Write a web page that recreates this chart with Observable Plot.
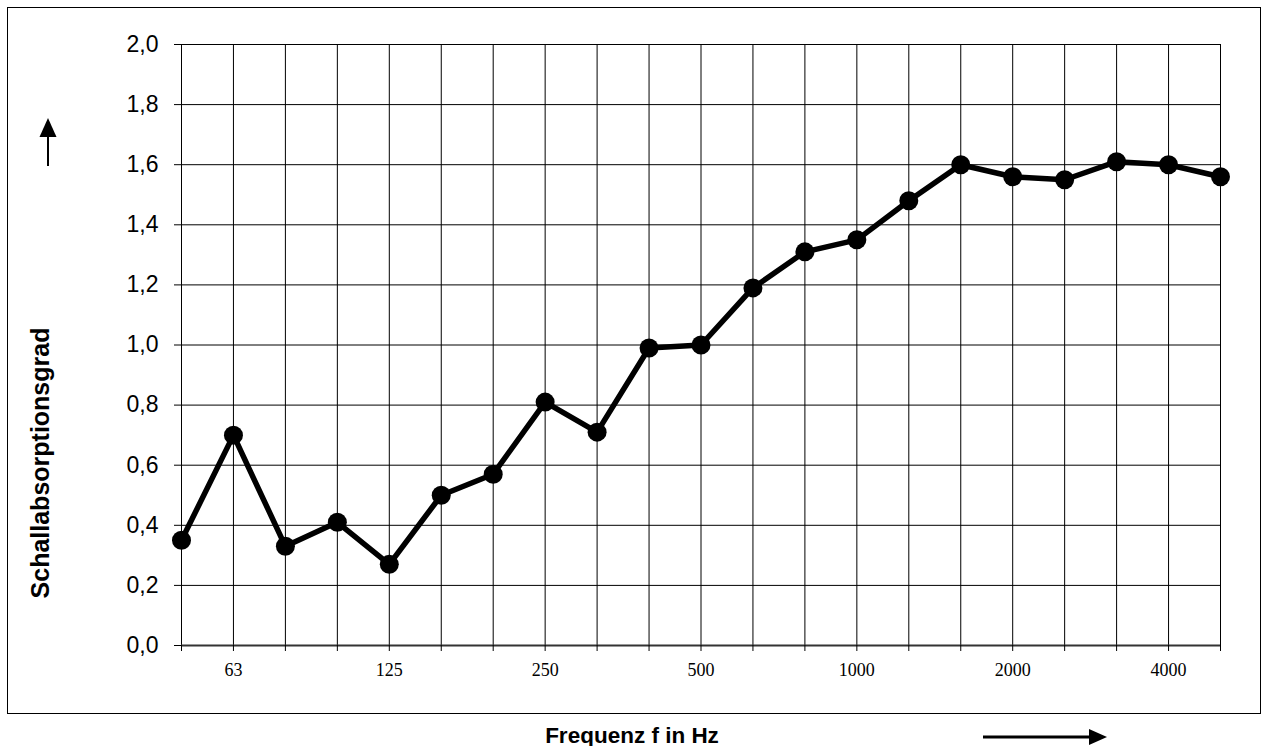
<!DOCTYPE html>
<html>
<head>
<meta charset="utf-8">
<script src="https://cdn.jsdelivr.net/npm/d3@7"></script>
<script src="https://cdn.jsdelivr.net/npm/@observablehq/plot@0.6"></script>
<style>
  html, body { margin: 0; padding: 0; background: #fff; overflow: hidden; }
  #chart { width: 1265px; height: 746px; }
</style>
</head>
<body>
<div id="chart"></div>
<script>
// Data
const frequencies = ["50","63","80","100","125","160","200","250","315","400","500","630","800","1000","1250","1600","2000","2500","3150","4000","5000"];
const absorption = [0.35,0.70,0.33,0.41,0.27,0.50,0.57,0.81,0.71,0.99,1.00,1.19,1.31,1.35,1.48,1.60,1.56,1.55,1.61,1.60,1.56];
const labeledFrequencies = ["63","125","250","500","1000","2000","4000"];
const yTicks = [0,0.2,0.4,0.6,0.8,1.0,1.2,1.4,1.6,1.8,2.0];
const yTitle = "Schallabsorptionsgrad";
const xTitle = "Frequenz f in Hz";

const data = frequencies.map((f, i) => ({f, v: absorption[i]}));

const sans = "'Liberation Sans', Arial, sans-serif";
const serif = "'Liberation Serif', 'Times New Roman', serif";

const plot = Plot.plot({
  width: 1265,
  height: 746,
  marginLeft: 181,
  marginRight: 45,
  marginTop: 44,
  marginBottom: 101,
  style: {background: "white", overflow: "visible"},
  x: {type: "point", domain: frequencies, range: [181, 1220], padding: 0, round: false},
  y: {domain: [0, 2], range: [645, 44]},
  marks: [
    Plot.gridY(yTicks, {stroke: "black", strokeOpacity: 1, strokeWidth: 1}),
    Plot.gridX(frequencies, {stroke: "black", strokeOpacity: 1, strokeWidth: 1}),
    Plot.ruleY([0], {stroke: "#333", strokeWidth: 2}),
    Plot.axisY({ticks: yTicks, tickSize: 7, tickPadding: 16, label: null,
      tickFormat: d => d.toFixed(1).replace(".", ","),
      fontSize: 23, fontFamily: sans, fill: "black", stroke: "black", strokeOpacity: 1}),
    Plot.axisX({ticks: frequencies, tickSize: 6, tickFormat: () => "", label: null, stroke: "black"}),
    Plot.axisX({ticks: labeledFrequencies, tickSize: 0, tickPadding: 18, label: null,
      fontSize: 18, fontFamily: serif, fill: "black"}),
    Plot.line(data, {x: "f", y: "v", stroke: "black", strokeWidth: 5.5, strokeLinejoin: "miter"}),
    Plot.dot(data, {x: "f", y: "v", r: 9.5, fill: "black", stroke: "none"})
  ]
});

const svg = d3.select(plot);
// Outer frame
svg.insert("rect", ":first-child")
  .attr("x", 7.5).attr("y", 7.5).attr("width", 1253).attr("height", 706)
  .attr("fill", "none").attr("stroke", "black").attr("stroke-width", 1);
// Y title
svg.append("text")
  .attr("transform", "translate(40,463) rotate(-90)")
  .attr("text-anchor", "middle").attr("dominant-baseline", "central")
  .attr("font-family", sans).attr("font-weight", "bold").attr("font-size", 25)
  .attr("fill", "black").text(yTitle);
// Up arrow
svg.append("line").attr("x1", 48).attr("x2", 48).attr("y1", 166).attr("y2", 134)
  .attr("stroke", "black").attr("stroke-width", 2);
svg.append("path").attr("d", "M48,118 L39.5,137 L56.5,137 Z").attr("fill", "black");
// X title
svg.append("text")
  .attr("x", 632).attr("y", 735)
  .attr("text-anchor", "middle").attr("dominant-baseline", "central")
  .attr("font-family", sans).attr("font-weight", "bold").attr("font-size", 22.5)
  .attr("fill", "black").text(xTitle);
// Right arrow
svg.append("line").attr("x1", 983).attr("x2", 1092).attr("y1", 737).attr("y2", 737)
  .attr("stroke", "black").attr("stroke-width", 3);
svg.append("path").attr("d", "M1107,737 L1089,729 L1089,745 Z").attr("fill", "black");

document.getElementById("chart").appendChild(plot);
</script>
</body>
</html>
